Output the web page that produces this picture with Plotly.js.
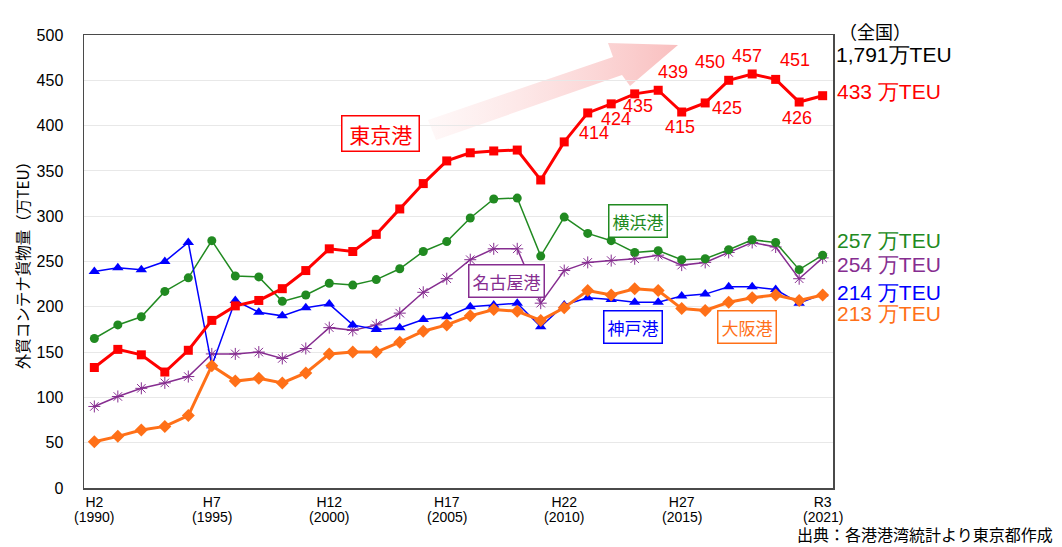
<!DOCTYPE html>
<html>
<head>
<meta charset="utf-8">
<script src="https://cdn.plot.ly/plotly-3.0.1.min.js"></script>
<style>
  html, body { margin: 0; padding: 0; background: #ffffff; }
  #chart { width: 1062px; height: 547px; }
</style>
</head>
<body>
<div id="chart"></div>
<script>
// ---------------- data ----------------
const years = [1990,1991,1992,1993,1994,1995,1996,1997,1998,1999,2000,2001,2002,2003,2004,2005,
               2006,2007,2008,2009,2010,2011,2012,2013,2014,2015,2016,2017,2018,2019,2020,2021];
const tokyo    = [133,153,147,128,152,185,201,207,220,240,264,261,280,308,336,361,370,372,373,340,382,414,424,435,439,415,425,450,457,451,426,433];
const yokohama = [165,180,189,217,232,273,234,233,206,213,226,224,230,242,261,272,298,319,320,256,299,281,273,260,262,252,253,263,274,271,241,257];
const nagoya   = [90,101,110,116,123,148,148,150,143,154,177,174,180,193,216,231,252,264,264,204,240,249,251,253,257,246,249,260,271,266,231,254];
const kobe     = [239,243,241,250,271,135,207,194,190,199,203,180,175,177,186,189,200,202,204,178,202,210,208,205,205,212,214,222,222,219,204,214];
const osaka    = [51,57,64,68,80,135,118,121,116,127,148,150,150,161,173,180,190,197,195,185,199,218,213,220,218,198,196,205,210,213,207,213];
const tickYears = [1990,1995,2000,2005,2010,2015,2021];
const tickEra   = ['H2','H7','H12','H17','H22','H27','R3'];
const tickYearText = ['(1990)','(1995)','(2000)','(2005)','(2010)','(2015)','(2021)'];
const labelledYears = [2011,2012,2013,2014,2015,2016,2017,2018,2019,2020];
const portNames = ['東京港','横浜港','名古屋港','神戸港','大阪港'];
const finalUnit = '万TEU';
const nationalLabel = '（全国）';
const nationalTotal = '1,791';
const yTitle = '外貿コンテナ貨物量（万TEU）';
const sourceNote = '出典：各港港湾統計より東京都作成';

// ---------------- styles ----------------
const C = { tokyo:'#ff0000', yokohama:'#218a21', nagoya:'#862d90', kobe:'#0000ff', osaka:'#ff7018' };
const LAT = 'Liberation Sans, Arial, sans-serif';
const CJK = 'Noto Sans CJK JP, sans-serif';

// label offsets (px) for Tokyo value labels, keyed by year
const tokyoLabelShift = {
  2011:[6,-20], 2012:[5,-15], 2013:[3,-12], 2014:[15,18], 2015:[-2,-15],
  2016:[22,-5], 2017:[-19,18], 2018:[-5,18], 2019:[19,19], 2020:[-2,-16]
};

// pixel -> coordinate helpers for decorative annotation placement
const X0 = 84, X1 = 833, Y0 = 35, Y1 = 488;
const xr = [1989.56, 2021.44], yr = [0, 500];
const px2x = p => xr[0] + (p - X0) / (X1 - X0) * (xr[1] - xr[0]);
const py2y = p => yr[0] + (Y1 - p) / (Y1 - Y0) * (yr[1] - yr[0]);
const py2paper = p => (Y1 - p) / (Y1 - Y0);
const px2paper = p => (p - X0) / (X1 - X0);

function series(name, y, color, symbol, size, lw, mlw) {
  return {
    type:'scatter', mode:'lines+markers', name, x: years, y,
    line:{ color, width: lw },
    marker:{ symbol, size, color, line:{ color, width: mlw || 0 } },
    hoverinfo:'skip'
  };
}

const traces = [
  series(portNames[2], nagoya, C.nagoya, 'asterisk-open', 10, 1.5, 1),
  series(portNames[1], yokohama, C.yokohama, 'circle', 9, 1.5),
  series(portNames[3], kobe, C.kobe, 'triangle-up', 10, 1.5),
  series(portNames[4], osaka, C.osaka, 'diamond', 10, 3),
  series(portNames[0], tokyo, C.tokyo, 'square', 9, 3)
];

const annotations = [];
// year line of x tick labels
tickYears.forEach((yv, i) => {
  annotations.push({ x: yv, xref:'x', y: 0, yref:'paper', yanchor:'middle', yshift: -28.5, borderpad: 0,
    text: tickYearText[i], showarrow:false, font:{ family:LAT, size:14, color:'#000' } });
});
// Tokyo value labels
labelledYears.forEach(yv => {
  const i = years.indexOf(yv);
  const s = tokyoLabelShift[yv];
  annotations.push({ x: years[i], y: tokyo[i], xref:'x', yref:'y', text: String(tokyo[i]),
    showarrow:false, xshift:s[0], yshift:s[1], font:{ family:LAT, size:18, color:C.tokyo } });
});
// final values on the right
const last = years.length - 1;
[[tokyo, C.tokyo, 4], [yokohama, C.yokohama, 15], [nagoya, C.nagoya, -7], [kobe, C.kobe, 2], [osaka, C.osaka, -18]]
  .forEach(([arr, col, ys]) => {
    annotations.push({ x: 1, xref:'paper', y: arr[last], yref:'y', xanchor:'left', xshift: 2, yshift: ys,
      text: arr[last] + ' ' + finalUnit, showarrow:false, font:{ family:LAT, size:21, color: col } });
  });
// national total
annotations.push({ x: 1, xref:'paper', y: py2paper(16), yref:'paper', xanchor:'left', xshift: 4,
  text: nationalLabel, showarrow:false, font:{ family:CJK, size:18, color:'#000' } });
annotations.push({ x: 1, xref:'paper', y: py2paper(41), yref:'paper', xanchor:'left', xshift: 1,
  text: nationalTotal + finalUnit, showarrow:false, font:{ family:LAT, size:21, color:'#000' } });
// boxed port names
const boxes = [
  ['&nbsp;' + portNames[0] + '&nbsp;', C.tokyo, 380, 133, 21, 2],
  [portNames[1], C.yokohama, 638, 221, 17, 3],
  [portNames[2], C.nagoya, 506, 281, 17, 3],
  [portNames[3], C.kobe, 633, 327, 17, 3],
  [portNames[4], C.osaka, 747, 327, 17, 3]
];
boxes.forEach(([t, col, px, py, fs, bp]) => {
  annotations.push({ x: px2x(px), y: py2y(py), xref:'x', yref:'y', text: t, showarrow:false,
    font:{ family:CJK, size: fs, color: col }, bordercolor: col, borderwidth: 1.5, borderpad: bp,
    bgcolor:'#ffffff' });
});
// source note
annotations.push({ x: px2paper(1054), xref:'paper', y: py2paper(547), yref:'paper', text: sourceNote, showarrow:false,
  font:{ family:CJK, size:16, color:'#000' }, xanchor:'right', yanchor:'bottom', borderpad: 0 });

// gradient arrow (decorative) as svg image
const arrowSvg = '<svg xmlns="http://www.w3.org/2000/svg" width="270" height="110" viewBox="0 0 270 110">' +
  '<defs><linearGradient id="g" x1="0" y1="0" x2="1" y2="0">' +
  '<stop offset="0" stop-color="#fbd0d0" stop-opacity="0.15"/>' +
  '<stop offset="1" stop-color="#f8b4b4" stop-opacity="0.85"/></linearGradient></defs>' +
  '<polygon points="8,85 193,22 188,8 258,10 210,51 202,40 16,105" fill="url(#g)"/></svg>';
const arrowSrc = 'data:image/svg+xml;charset=utf-8,' + encodeURIComponent(arrowSvg);

const layout = {
  width: 1062, height: 547,
  margin: { l: X0, r: 1062 - X1, t: Y0, b: 547 - Y1, pad: 0 },
  paper_bgcolor:'#ffffff', plot_bgcolor:'rgba(0,0,0,0)',
  showlegend:false,
  font:{ family: LAT, color:'#000' },
  xaxis: {
    range: xr, tickvals: tickYears, ticktext: tickEra, showgrid:false, zeroline:false,
    showline:true, mirror:true, linecolor:'#4a4a4a', linewidth:1.5, ticks:'',
    ticklabelstandoff: 1,
    tickfont:{ family:LAT, size:14, color:'#000' }, fixedrange:true
  },
  yaxis: {
    range: yr, dtick: 50, showgrid:true, gridcolor:'#e8e8e8', gridwidth:1, zeroline:false,
    showline:true, mirror:true, linecolor:'#4a4a4a', linewidth:1.5, ticks:'',
    ticklabelstandoff: 16,
    tickfont:{ family:LAT, size:16, color:'#000' },
    title:{ text: yTitle, font:{ family:CJK, size:15.5, color:'#000' }, standoff: 3 },
    fixedrange:true
  },
  annotations,
  images: [{ source: arrowSrc, xref:'paper', yref:'paper',
    x: px2paper(420), y: py2paper(35),
    sizex: 270 / (X1 - X0), sizey: 110 / (Y1 - Y0),
    xanchor:'left', yanchor:'top', sizing:'stretch', layer:'below' }]
};

Plotly.newPlot('chart', traces, layout, { displayModeBar:false, staticPlot:true });
</script>
</body>
</html>
